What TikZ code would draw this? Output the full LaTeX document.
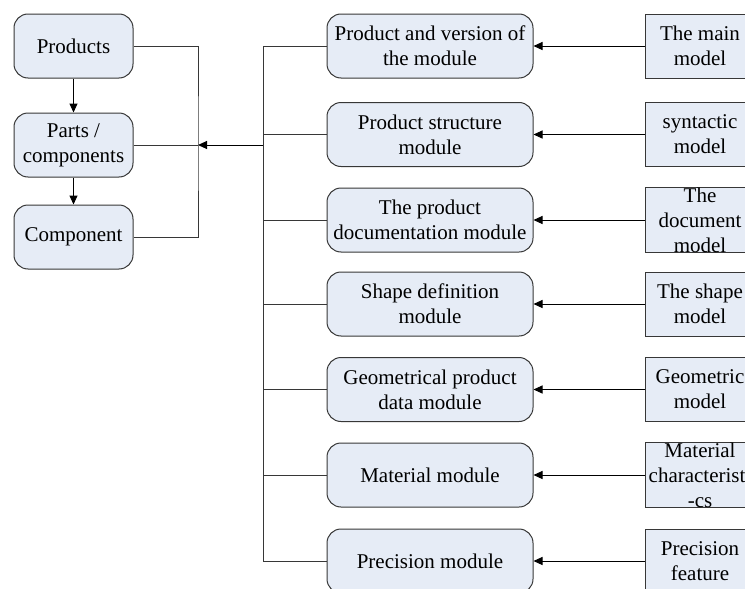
\documentclass[tikz,border=0pt]{standalone}
\usepackage{fontspec}
\setmainfont{Liberation Serif}
\usetikzlibrary{arrows.meta}
\definecolor{boxfill}{RGB}{230,236,246}
\definecolor{edgecol}{RGB}{55,55,55}
\begin{document}
\begin{tikzpicture}[x=1pt,y=-1pt,
  base/.style={draw=edgecol, line width=1pt, fill=boxfill, inner sep=0pt, align=center,
    minimum height=64pt, font=\fontsize{21}{25}\selectfont},
  lbox/.style={base, rounded corners=14pt, minimum width=119pt},
  mbox/.style={base, rounded corners=14pt, minimum width=206pt},
  rbox/.style={base, minimum width=110pt},
  conn/.style={draw=edgecol, line width=1pt},
  arr/.style={conn, -{Triangle[length=9pt,width=8pt]}, black}]
\useasboundingbox (0,0) rectangle (745,589);
\clip (0,0) rectangle (745,589);

% left column
\node[lbox] (prod) at (73.5,46) {Products};
\node[lbox] (parts) at (73.5,145) {Parts /\\components};
\node[lbox] (comp) at (73.5,237) {Component};

% middle column
\node[mbox] (m1) at (430,46) {Product and version of\\the module};
\node[mbox] (m2) at (430,134.5) {Product structure\\module};
\node[mbox] (m3) at (430,220) {The product\\documentation module};
\node[mbox] (m4) at (430,304) {Shape definition\\module};
\node[mbox] (m5) at (430,389.5) {Geometrical product\\data module};
\node[mbox] (m6) at (430,475) {Material module};
\node[mbox] (m7) at (430,561) {Precision module};

% right column
\node[rbox] (r1) at (700,46) {The main\\model};
\node[rbox] (r2) at (700,134.5) {syntactic\\model};
\node[rbox] (r3) at (700,220) {The\\document\\model};
\node[rbox] (r4) at (700,304) {The shape\\model};
\node[rbox] (r5) at (700,389.5) {Geometric\\model};
\node[rbox] (r6) at (700,475) {Material\\characteristi\\-cs};
\node[rbox] (r7) at (700,561) {Precision\\feature};

% left connectors
\draw[arr] (prod) -- (parts);
\draw[arr] (parts) -- (comp);
\coordinate (jl) at (198,145);
\coordinate (bj) at (263,145);
\draw[conn] (prod.east) -| (jl) |- (comp.east);
\draw[conn] (parts.east) -- (jl);
\draw[arr] (bj) -- (jl);

% bus
\coordinate (bt) at (263,46);
\coordinate (bb) at (263,561);
\draw[conn] (m1.west) -- (bt) -- (bb) -- (m7.west);
\foreach \i in {2,...,6} {\draw[conn] (m\i.west) -- (m\i.west -| bt);}

% right arrows
\foreach \i in {1,...,7} {\draw[arr] (r\i.west) -- (m\i.east);}
\end{tikzpicture}
\end{document}
